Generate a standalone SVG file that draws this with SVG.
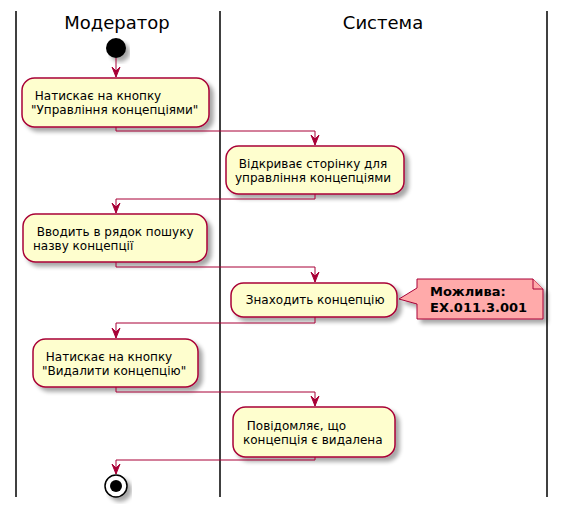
<svg xmlns="http://www.w3.org/2000/svg" width="566" height="513" viewBox="0 0 566 513">
<defs>
<filter id="sh" x="-10%" y="-10%" width="130%" height="140%">
<feGaussianBlur in="SourceAlpha" stdDeviation="2"/>
<feOffset dx="4" dy="4" result="b"/>
<feComponentTransfer><feFuncA type="linear" slope="0.35"/></feComponentTransfer>
<feMerge><feMergeNode/><feMergeNode in="SourceGraphic"/></feMerge>
</filter>
<style>
.lane{stroke:#000;stroke-width:1.5}
.title{font-family:"DejaVu Sans",sans-serif;font-size:18px;fill:#000;text-anchor:middle}
.box{fill:#FEFECE;stroke:#A80036;stroke-width:1.5}
.t{font-family:"DejaVu Sans",sans-serif;font-size:12px;fill:#000;white-space:pre}
.c{fill:none;stroke:#A80036;stroke-width:1}
.ar{fill:#A80036;stroke:#A80036;stroke-width:1}
.note{fill:#FFAAAA;stroke:#A80036;stroke-width:1}
.nt{font-family:"DejaVu Sans",sans-serif;font-size:13px;font-weight:bold;fill:#000}
</style>
</defs>
<rect width="566" height="513" fill="#FFFFFF"/>
<g id="lanes">
<line class="lane" x1="16" y1="11" x2="16" y2="497"/>
<line class="lane" x1="220" y1="11" x2="220" y2="497"/>
<line class="lane" x1="547" y1="11" x2="547" y2="497"/>
<text class="title" x="117" y="29">Модератор</text>
<text class="title" x="383" y="29">Система</text>
</g>
<g id="start"><circle cx="116" cy="48" r="10" fill="#000" filter="url(#sh)"/></g>
<g id="a1">
<rect class="box" x="22" y="78" width="187" height="49" rx="12.5" filter="url(#sh)"/>
<text class="t" x="31" y="100" xml:space="preserve"> Натискає на кнопку</text>
<text class="t" x="31" y="114">"Управління концепціями"</text>
</g>
<g id="a2">
<rect class="box" x="226" y="146" width="178" height="48" rx="12.5" filter="url(#sh)"/>
<text class="t" x="235" y="168" xml:space="preserve"> Відкриває сторінку для</text>
<text class="t" x="235" y="182">управління концепціями</text>
</g>
<g id="a3">
<rect class="box" x="23" y="214" width="184" height="48" rx="12.5" filter="url(#sh)"/>
<text class="t" x="33" y="236" xml:space="preserve"> Вводить в рядок пошуку</text>
<text class="t" x="33" y="250">назву концепції</text>
</g>
<g id="a4">
<rect class="box" x="231" y="283" width="166" height="34" rx="12.5" filter="url(#sh)"/>
<text class="t" x="242" y="304" xml:space="preserve"> Знаходить концепцію</text>
</g>
<g id="note">
<path class="note" d="M417,279 L533,279 L543,289 L543,319 L417,319 L417,304 L399,299 L417,288 Z" filter="url(#sh)"/>
<path class="note" d="M533,279 L533,289 L543,289" fill="none"/>
<text class="nt" x="430" y="296">Можлива:</text>
<text class="nt" x="430" y="312">EX.011.3.001</text>
</g>
<g id="a5">
<rect class="box" x="33" y="339" width="165" height="48" rx="12.5" filter="url(#sh)"/>
<text class="t" x="42" y="361" xml:space="preserve"> Натискає на кнопку</text>
<text class="t" x="42" y="375">"Видалити концепцію"</text>
</g>
<g id="a6">
<rect class="box" x="233" y="407" width="162" height="50" rx="12.5" filter="url(#sh)"/>
<text class="t" x="243" y="430" xml:space="preserve"> Повідомляє, що</text>
<text class="t" x="243" y="444">концепція є видалена</text>
</g>
<g id="end">
<circle cx="116" cy="486" r="11" fill="#FFFFFF" stroke="#000" stroke-width="1.5" filter="url(#sh)"/>
<circle cx="116" cy="486" r="6" fill="#000"/>
</g>
<g id="connectors">
<path class="c" d="M116,58 L116,77"/>
<polygon class="ar" points="112,67 116,77 120,67 116,71"/>
<path class="c" d="M116,127 L116,131 L315,131 L315,145"/>
<polygon class="ar" points="311,135 315,145 319,135 315,139"/>
<path class="c" d="M315,194 L315,199 L116,199 L116,213"/>
<polygon class="ar" points="112,203 116,213 120,203 116,207"/>
<path class="c" d="M116,262 L116,267 L315,267 L315,282"/>
<polygon class="ar" points="311,272 315,282 319,272 315,276"/>
<path class="c" d="M315,317 L315,323 L116,323 L116,338"/>
<polygon class="ar" points="112,328 116,338 120,328 116,332"/>
<path class="c" d="M116,387 L116,392 L315,392 L315,406"/>
<polygon class="ar" points="311,396 315,406 319,396 315,400"/>
<path class="c" d="M315,457 L315,460 L116,460 L116,474"/>
<polygon class="ar" points="112,464 116,474 120,464 116,468"/>
</g>
</svg>
